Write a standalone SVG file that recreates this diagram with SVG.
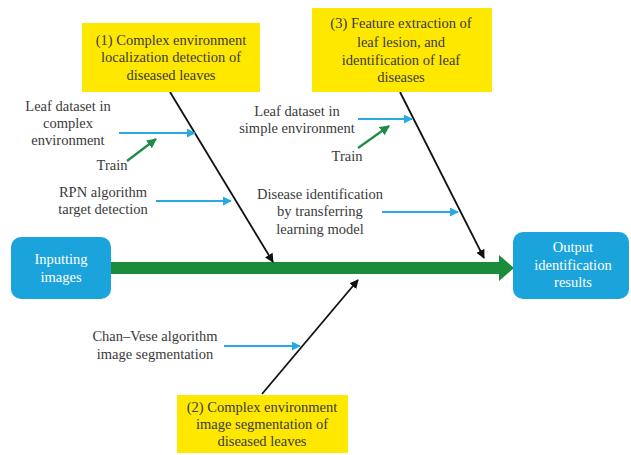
<svg xmlns="http://www.w3.org/2000/svg" width="631" height="455" viewBox="0 0 631 455">
<defs>
<style>
.t{font-family:"Liberation Serif","Times New Roman",serif;font-size:14.5px;fill:#3a3a3a;text-anchor:middle}
.w{fill:#ffffff}
.ybox{fill:#ffe800}
.bbox{fill:#1ba3db}
.blk{stroke:#111;stroke-width:1.8;fill:none}
.blu{stroke:#29a9e1;stroke-width:2;fill:none}
.grn{stroke:#1e8c46;stroke-width:2.2;fill:none}
</style>
<marker id="ab" viewBox="0 0 10 10" refX="9" refY="5" markerWidth="5" markerHeight="5" orient="auto" markerUnits="strokeWidth"><path d="M0,0 L10,5 L0,10 Z" fill="#111"/></marker>
<marker id="au" viewBox="0 0 10 10" refX="9" refY="5" markerWidth="4.5" markerHeight="4.5" orient="auto" markerUnits="strokeWidth"><path d="M0,0 L10,5 L0,10 Z" fill="#29a9e1"/></marker>
<marker id="ag" viewBox="0 0 10 10" refX="9" refY="5" markerWidth="4.5" markerHeight="4.5" orient="auto" markerUnits="strokeWidth"><path d="M0,0 L10,5 L0,10 Z" fill="#1e8c46"/></marker>
</defs>
<rect width="631" height="455" fill="#ffffff"/>

<g id="connectors">
<path d="M111,268 H502" stroke="#1a8c3c" stroke-width="12" fill="none"/>
<path d="M499,255 L514,268 L499,281 Z" fill="#1a8c3c"/>
<line class="blk" x1="170" y1="92" x2="273" y2="262" marker-end="url(#ab)"/>
<line class="blk" x1="400" y1="92" x2="484" y2="258" marker-end="url(#ab)"/>
<line class="blk" x1="262" y1="394" x2="358" y2="280" marker-end="url(#ab)"/>
<line class="blu" x1="119" y1="133" x2="195" y2="133" marker-end="url(#au)"/>
<line class="grn" x1="127" y1="161" x2="156" y2="139" marker-end="url(#ag)"/>
<line class="blu" x1="156" y1="201" x2="231" y2="201" marker-end="url(#au)"/>
<line class="blu" x1="358" y1="119" x2="412" y2="119" marker-end="url(#au)"/>
<line class="grn" x1="358" y1="148" x2="389" y2="126" marker-end="url(#ag)"/>
<line class="blu" x1="382" y1="212" x2="458" y2="212" marker-end="url(#au)"/>
<line class="blu" x1="224" y1="346" x2="300" y2="346" marker-end="url(#au)"/>
</g>

<g id="box1">
<rect class="ybox" x="82" y="23" width="178" height="69"/>
<text class="t" x="171" y="45">(1) Complex environment</text>
<text class="t" x="171" y="62">localization detection of</text>
<text class="t" x="171" y="80">diseased leaves</text>
</g>

<g id="box3">
<rect class="ybox" x="312" y="8" width="180" height="84"/>
<text class="t" x="401" y="28">(3) Feature extraction of</text>
<text class="t" x="401" y="47">leaf lesion, and</text>
<text class="t" x="401" y="65">identification of leaf</text>
<text class="t" x="401" y="82">diseases</text>
</g>

<g id="box2">
<rect class="ybox" x="177" y="395" width="171" height="58"/>
<text class="t" x="262" y="412">(2) Complex environment</text>
<text class="t" x="262" y="429">image segmentation of</text>
<text class="t" x="262" y="446">diseased leaves</text>
</g>

<g id="input">
<rect class="bbox" x="11" y="237" width="100" height="62" rx="10"/>
<text class="t w" x="61" y="264">Inputting</text>
<text class="t w" x="61" y="282">images</text>
</g>

<g id="output">
<rect class="bbox" x="513" y="232" width="116" height="67" rx="10"/>
<text class="t w" x="573" y="252">Output</text>
<text class="t w" x="573" y="270">identification</text>
<text class="t w" x="573" y="287">results</text>
</g>

<g id="label-leaf-complex">
<text class="t" x="68" y="111">Leaf dataset in</text>
<text class="t" x="68" y="128">complex</text>
<text class="t" x="68" y="145">environment</text>
</g>
<g id="label-train1"><text class="t" x="112" y="170">Train</text></g>
<g id="label-rpn">
<text class="t" x="103" y="197">RPN algorithm</text>
<text class="t" x="103" y="214">target detection</text>
</g>
<g id="label-leaf-simple">
<text class="t" x="297" y="116">Leaf dataset in</text>
<text class="t" x="297" y="133">simple environment</text>
</g>
<g id="label-train2"><text class="t" x="347" y="161">Train</text></g>
<g id="label-disease">
<text class="t" x="320" y="199">Disease identification</text>
<text class="t" x="320" y="216">by transferring</text>
<text class="t" x="320" y="234">learning model</text>
</g>
<g id="label-chanvese">
<text class="t" x="155" y="341">Chan–Vese algorithm</text>
<text class="t" x="155" y="359">image segmentation</text>
</g>
</svg>
